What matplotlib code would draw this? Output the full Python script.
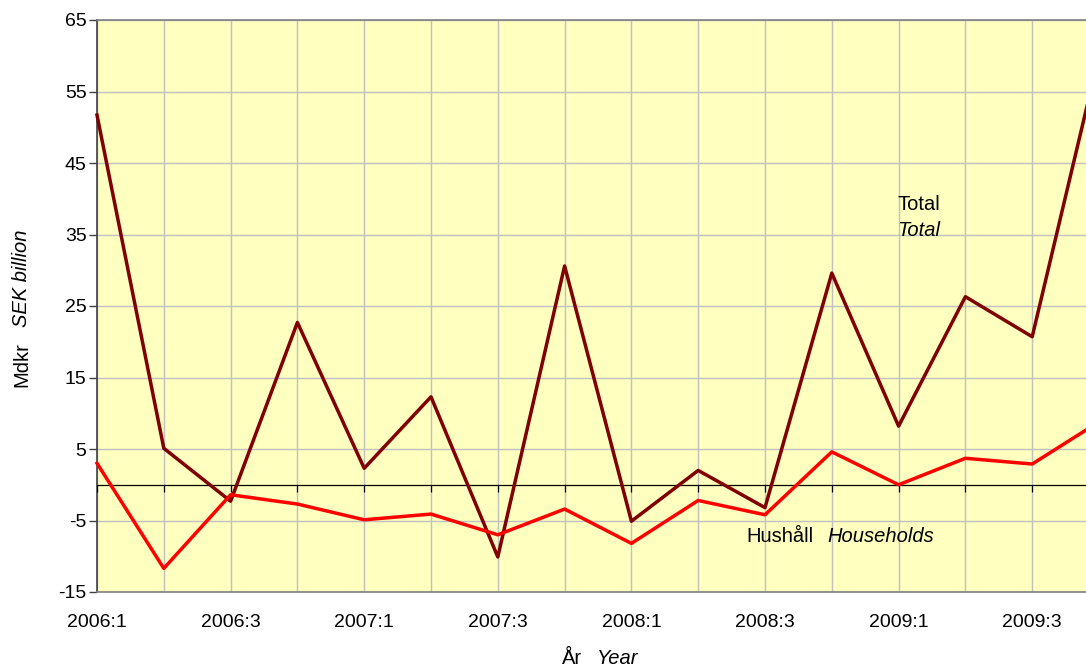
import numpy as np
import matplotlib
matplotlib.use('Agg')
import matplotlib.pyplot as plt

plt.rcParams['font.family'] = ['Liberation Sans', 'DejaVu Sans']
plt.rcParams['axes.unicode_minus'] = False

# Kvartal 2006:1 - 2009:4
quarters = [f'{y}:{q}' for y in range(2006, 2010) for q in range(1, 5)]
# Mdkr, totalt
total = [51.7, 5.1, -2.3, 22.7, 2.3, 12.3, -10.1, 30.6,
         -5.1, 2.0, -3.2, 29.6, 8.2, 26.3, 20.7, 60.0]
# Mdkr, hushåll
households = [3.0, -11.7, -1.4, -2.7, -4.9, -4.1, -7.0, -3.4,
              -8.2, -2.2, -4.2, 4.6, 0.0, 3.7, 2.9, 8.8]
yticks = list(range(-15, 66, 10))

W, H = 1086, 667
fig = plt.figure(figsize=(W / 100, H / 100), dpi=100)
ax = fig.add_axes([97 / W, 1 - 592 / H, (1099 - 97) / W, (592 - 20) / H])
ax.set_facecolor('#FFFFC0')

x = np.arange(len(quarters))
ax.plot(x, total, color='#800000', lw=2.5, zorder=4, clip_on=False)
ax.plot(x, households, color='#FF0000', lw=2.5, zorder=4, clip_on=False)

# nollinje med små streck
ax.axhline(0, color='black', lw=0.9, zorder=3)
ax.plot(x, np.zeros(len(x)), ls='none', marker=3, ms=5, mew=0.9, color='black', zorder=3)

ax.set_xlim(0, len(quarters) - 1)
ax.set_ylim(-15, 65)
ax.set_yticks(yticks)
ax.set_xticks(x)
ax.set_xticklabels([q if i % 2 == 0 else '' for i, q in enumerate(quarters)])
ax.tick_params(axis='x', length=0, pad=16, labelsize=14)
ax.tick_params(axis='y', length=5.5, width=1, color='#404040', labelsize=14, pad=2)
ax.grid(True, color='#C0C0C0', lw=1)
ax.set_axisbelow(True)

for s in ['top', 'bottom']:
    ax.spines[s].set_color('#808080')
    ax.spines[s].set_linewidth(1.2)
ax.spines['left'].set_color('#404040')
ax.spines['left'].set_linewidth(1.2)
ax.spines['right'].set_visible(False)

def ft(px, py, s, **kw):
    fig.text(px / W, 1 - py / H, s, fontsize=14.5, **kw)

# axelrubriker
ft(582, 658, 'År', ha='right', va='center')
ft(597, 658, 'Year', ha='left', va='center', style='italic')
ft(22, 387, 'Mdkr', ha='center', va='bottom', rotation=90)
ft(22, 327, 'SEK billion', ha='center', va='bottom', rotation=90, style='italic')

# serieetiketter
ft(919, 204, 'Total', ha='center', va='center')
ft(919, 231, 'Total', ha='center', va='center', style='italic')
ft(746, 536, 'Hushåll', ha='left', va='center')
ft(827, 536, 'Households', ha='left', va='center', style='italic')

fig.savefig('out.png', dpi=100)
